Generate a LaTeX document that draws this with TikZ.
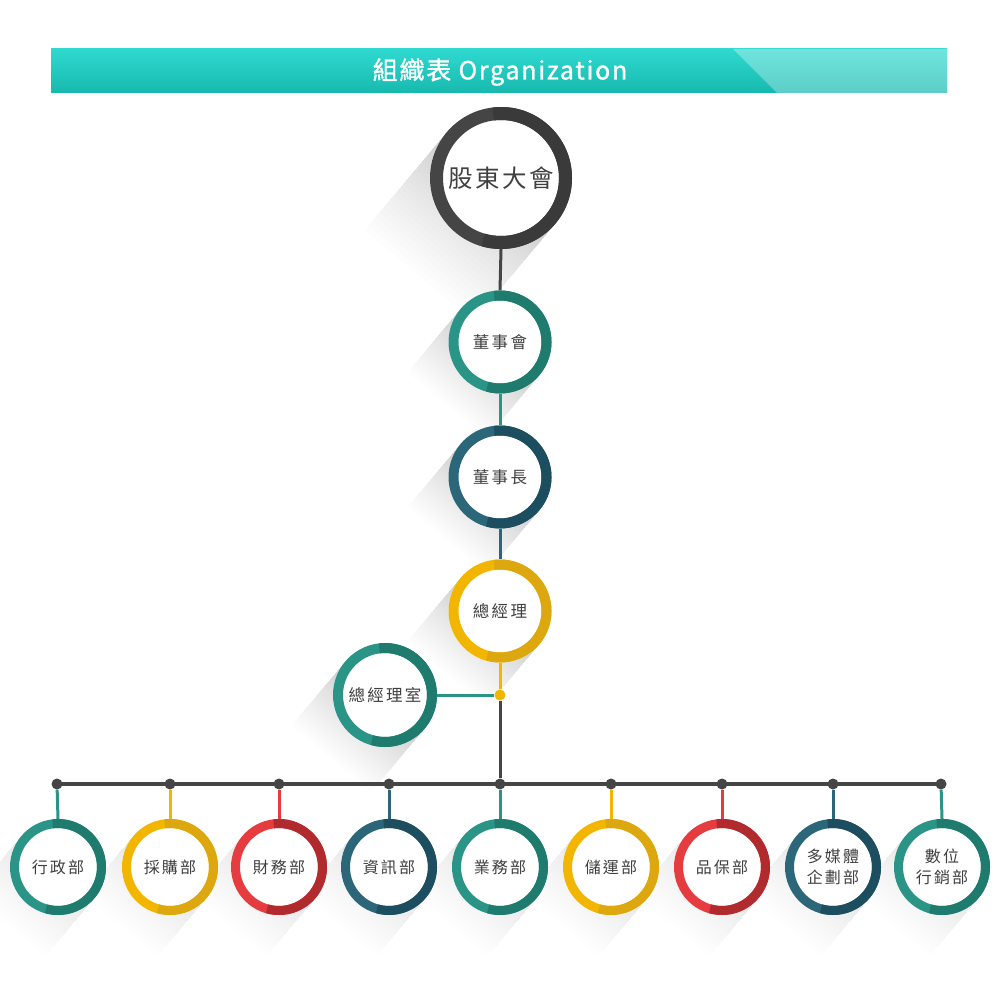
\documentclass[tikz,border=0pt]{standalone}
\usepackage{fontspec}
\newfontfamily\cjk{Noto Sans CJK TC}[LetterSpace=14]
\newfontfamily\cjkbig{Noto Sans CJK TC}[LetterSpace=10]
\newfontfamily\cjktitle{Noto Sans CJK TC}[LetterSpace=7,FakeBold=1.2]
\definecolor{cgrayL}{HTML}{454545}
\definecolor{cgrayD}{HTML}{3A3A3A}
\definecolor{ctealL}{HTML}{2A9486}
\definecolor{ctealD}{HTML}{1F7B6E}
\definecolor{cblueL}{HTML}{2B6679}
\definecolor{cblueD}{HTML}{1D4E60}
\definecolor{cyelL}{HTML}{F2B600}
\definecolor{cyelD}{HTML}{DDA80F}
\definecolor{credL}{HTML}{E43C3F}
\definecolor{credD}{HTML}{B02A2E}
\definecolor{ctext}{HTML}{404040}
\definecolor{hdrtop}{HTML}{2FD9D0}
\definecolor{hdrbot}{HTML}{17B9AE}
\definecolor{hdrtopR}{HTML}{6FE4DD}
\definecolor{hdrbotR}{HTML}{5BCFC7}
% x, y, R, per-strip opacity, length factor
\newcommand\shadowat[5]{%
  \begin{scope}[shift={(#1,#2)},rotate=-130]
    \foreach \k in {0,...,29}{\fill[black,opacity=#4] (0,-#3) rectangle ({#3*#5*((30-\k)/30)^1.4},#3);}
  \end{scope}}
\newcommand\ringat[6]{% x y rm t light dark
  \draw[line width=#4pt,#5] (#1,#2) circle[radius=#3];
  \draw[line width=#4pt,#6] (#1,#2) ++(-97:#3) arc[start angle=-97,end angle=106,radius=#3];}
\tikzset{
  conn/.style={line width=3pt},
  busline/.style={line width=4pt,cgrayL},
  bigc/.style={circle,fill=white,minimum size=142pt,inner sep=0pt,text=ctext,font={\cjkbig\fontsize{24.5}{28}\selectfont}},
  midc/.style={circle,fill=white,minimum size=103pt,inner sep=0pt,text=ctext,font={\cjk\fontsize{16.5}{21}\selectfont}},
  smallc/.style={circle,fill=white,minimum size=96pt,inner sep=0pt,text=ctext,align=center,font={\cjk\fontsize{16}{21}\selectfont}},
  dot/.style={circle,minimum size=11pt,inner sep=0pt},
}
\begin{document}
\begin{tikzpicture}[x=1pt,y=-1pt]
\useasboundingbox (0,0) rectangle (1000,1000);
% header
\shade[top color=hdrtop,bottom color=hdrbot] (51,49) rectangle (947,93);
\shade[top color=hdrtopR,bottom color=hdrbotR] (733,49) -- (947,49) -- (947,93) -- (777,93) -- cycle;
\node[text=white,font={\cjktitle\fontsize{25}{28}\selectfont}] (title) at (500,72) {組織表 Organization};
% shadows
\shadowat{501}{178}{71}{0.0085}{1.8}
\shadowat{500}{342}{51.5}{0.006}{1.6}
\shadowat{500}{477}{51.5}{0.006}{1.6}
\shadowat{500}{611}{51.5}{0.006}{1.6}
\shadowat{385}{695}{52}{0.006}{1.6}
\foreach \x in {58,170,279,389,500,611,722,833,942}{\shadowat{\x}{867}{48}{0.0055}{1.6}}
% main nodes
\node[bigc] (gm) at (501,178) {股東大會};
\node[midc] (bd) at (500,342) {董事會};
\node[midc] (ch) at (500,477) {董事長};
\node[midc] (ceo) at (500,611) {總經理};
\node[midc] (off) at (385,695) {總經理室};
\ringat{501}{178}{64.5}{13}{cgrayL}{cgrayD}
\ringat{500}{342}{46.5}{10}{ctealL}{ctealD}
\ringat{500}{477}{46.5}{10}{cblueL}{cblueD}
\ringat{500}{611}{46.5}{10}{cyelL}{cyelD}
\ringat{385}{695}{47}{10}{ctealL}{ctealD}
% bottom nodes
\node[smallc] (b1) at (58,867) {行政部};
\node[smallc] (b2) at (170,867) {採購部};
\node[smallc] (b3) at (279,867) {財務部};
\node[smallc] (b4) at (389,867) {資訊部};
\node[smallc] (b5) at (500,867) {業務部};
\node[smallc] (b6) at (611,867) {儲運部};
\node[smallc] (b7) at (722,867) {品保部};
\node[smallc] (b8) at (833,867) {多媒體\\企劃部};
\node[smallc] (b9) at (942,867) {數位\\行銷部};
\ringat{58}{867}{43.5}{9}{ctealL}{ctealD}
\ringat{170}{867}{43.5}{9}{cyelL}{cyelD}
\ringat{279}{867}{43.5}{9}{credL}{credD}
\ringat{389}{867}{43.5}{9}{cblueL}{cblueD}
\ringat{500}{867}{43.5}{9}{ctealL}{ctealD}
\ringat{611}{867}{43.5}{9}{cyelL}{cyelD}
\ringat{722}{867}{43.5}{9}{credL}{credD}
\ringat{833}{867}{43.5}{9}{cblueL}{cblueD}
\ringat{942}{867}{43.5}{9}{ctealL}{ctealD}
% dots
\node[dot,fill=cyelL] (jn) at (500,695) {};
\foreach \i/\x in {1/57,2/170,3/279,4/389,5/500,6/611,7/722,8/833,9/941}{\node[dot,fill=cgrayL] (d\i) at (\x,784) {};}
% connectors
\draw[conn,cgrayL] (gm.south) -- (bd.north);
\draw[conn,ctealL] (bd.south) -- (ch.north);
\draw[conn,cblueL] (ch.south) -- (ceo.north);
\draw[conn,cyelL] (ceo.south) -- (jn);
\draw[conn,ctealL] (jn) -- (off.east);
\draw[conn,cgrayL] (jn) -- (d5);
\draw[busline] (d1.center) -- (d9.center);
\draw[conn,ctealL] (d1) -- (b1.north);
\draw[conn,cyelL] (d2) -- (b2.north);
\draw[conn,credL] (d3) -- (b3.north);
\draw[conn,cblueL] (d4) -- (b4.north);
\draw[conn,ctealL] (d5) -- (b5.north);
\draw[conn,cyelL] (d6) -- (b6.north);
\draw[conn,credL] (d7) -- (b7.north);
\draw[conn,cblueL] (d8) -- (b8.north);
\draw[conn,ctealL] (d9) -- (b9.north);
\end{tikzpicture}
\end{document}
